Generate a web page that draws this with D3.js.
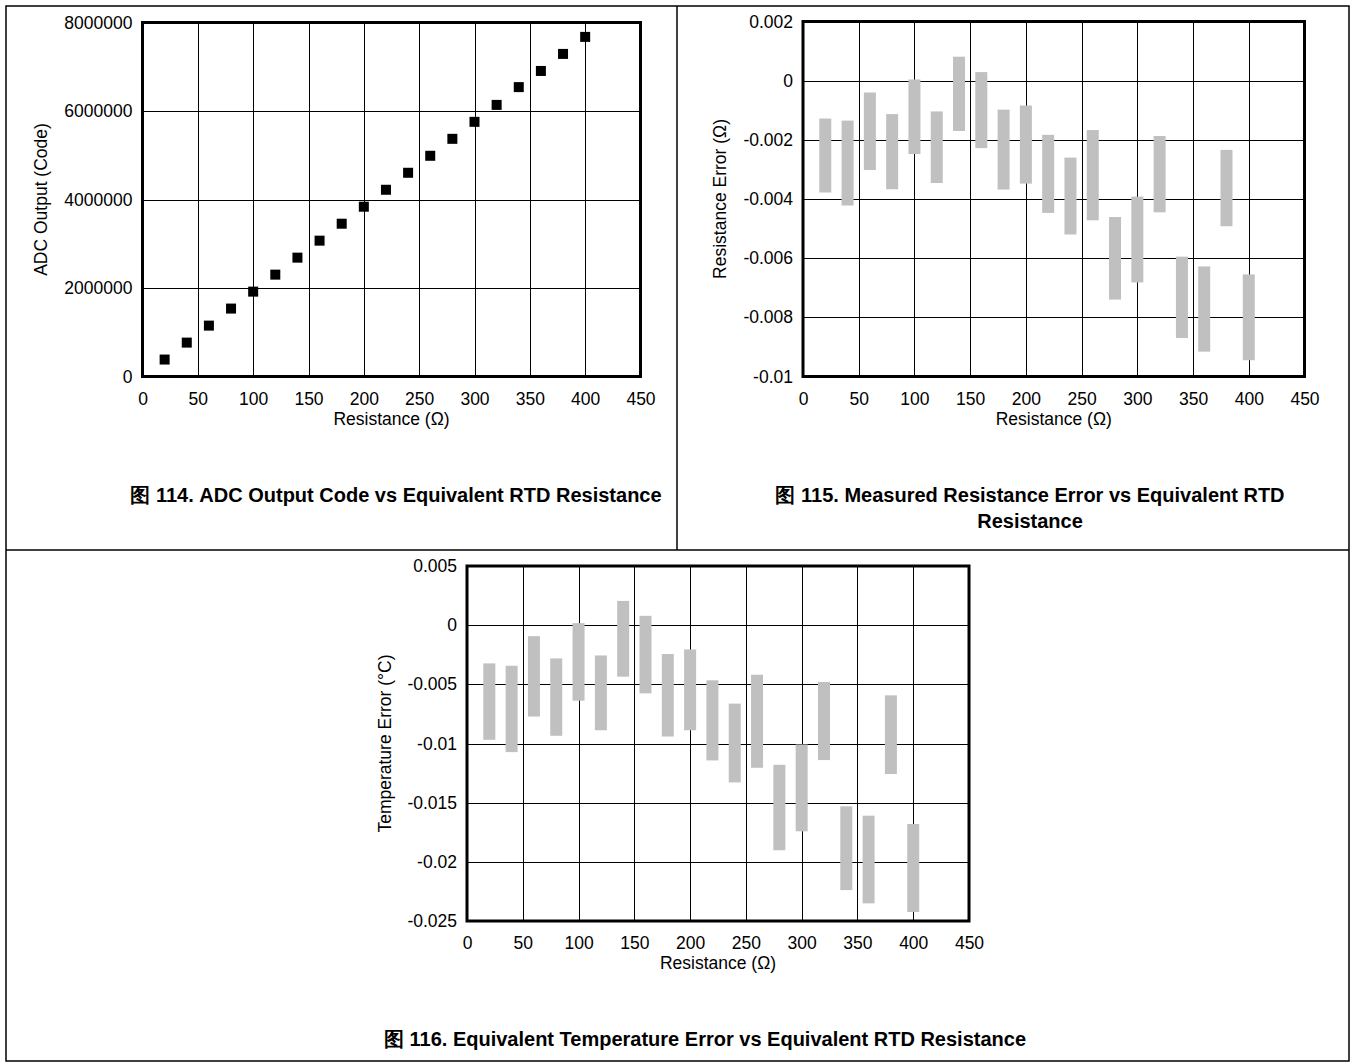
<!DOCTYPE html>
<html>
<head>
<meta charset="utf-8">
<script src="https://cdn.jsdelivr.net/npm/d3@7"></script>
<style>
  body { margin: 0; background: #fff; }
  svg text { font-family: "Liberation Sans", Arial, sans-serif; fill: #000; }
</style>
</head>
<body>
<svg id="page" width="1351" height="1064"></svg>
<script>
// equivalent RTD resistance (ohm), same for all three figures
var resistance = [20, 40, 60, 80, 100, 120, 140, 160, 180, 200, 220, 240, 260, 280, 300, 320, 340, 360, 380, 400];

// fig 114 - ADC output code
var adcCode = [383000, 766000, 1150000, 1535000, 1918000, 2302000, 2686000, 3070000, 3453000, 3837000,
               4220000, 4604000, 4988000, 5371000, 5755000, 6138000, 6540000, 6905000, 7290000, 7675000];

// fig 115 - resistance error range (ohm)
var resErrTop = [-0.00128, -0.00135, -0.0004, -0.00113, 0.00004, -0.00104, 0.00081, 0.00029, -0.00098, -0.00084,
                 -0.00183, -0.0026, -0.00167, -0.00461, -0.00392, -0.00187, -0.00595, -0.00628, -0.00234, -0.00655];
var resErrBottom = [-0.00378, -0.00422, -0.00302, -0.00367, -0.00248, -0.00346, -0.0017, -0.00228, -0.00368, -0.00348,
                    -0.00447, -0.0052, -0.00472, -0.0074, -0.00682, -0.00445, -0.0087, -0.00916, -0.00492, -0.00945];

// fig 116 - temperature error range (degC)
var tempErrTop = [-0.00323, -0.00343, -0.00093, -0.00281, 0.00017, -0.00256, 0.00205, 0.00079, -0.00244, -0.00205,
                  -0.00466, -0.00663, -0.00419, -0.0118, -0.01008, -0.0048, -0.01531, -0.0161, -0.00593, -0.0168];
var tempErrBottom = [-0.00969, -0.01073, -0.00772, -0.00935, -0.00638, -0.00888, -0.00435, -0.00576, -0.00941, -0.00888,
                     -0.01143, -0.01329, -0.01205, -0.01902, -0.01742, -0.0114, -0.02239, -0.02351, -0.01258, -0.02424];

// axis ticks
var xTicks = [0, 50, 100, 150, 200, 250, 300, 350, 400, 450];
var adcTicks = [0, 2000000, 4000000, 6000000, 8000000];
var resErrTicks = [-0.01, -0.008, -0.006, -0.004, -0.002, 0, 0.002];
var tempErrTicks = [-0.025, -0.02, -0.015, -0.01, -0.005, 0, 0.005];

var svg = d3.select("#page");
var FS = 17.5;

// page frame and panel dividers
svg.append("rect")
    .attr("x", 6).attr("y", 6)
    .attr("width", 1343).attr("height", 1055)
    .attr("fill", "none").attr("stroke", "#000").attr("stroke-width", 1.5);
svg.append("line")
    .attr("x1", 677).attr("x2", 677).attr("y1", 6).attr("y2", 550)
    .attr("stroke", "#000").attr("stroke-width", 1.5);
svg.append("line")
    .attr("x1", 6).attr("x2", 1349).attr("y1", 550).attr("y2", 550)
    .attr("stroke", "#000").attr("stroke-width", 1.5);

function fmtNum(v) {
  return String(Math.round(v * 1e6) / 1e6);
}

function drawPanel(opt) {
  var x = d3.scaleLinear().domain([0, 450]).range([opt.left, opt.right]);
  var y = d3.scaleLinear().domain(opt.yDomain).range([opt.bottom, opt.top]);
  var g = svg.append("g");

  // grid
  g.append("g")
      .attr("transform", "translate(0," + opt.bottom + ")")
      .call(d3.axisBottom(x).tickValues(xTicks).tickSize(-(opt.bottom - opt.top)).tickFormat(""))
      .call(function(s) { s.select(".domain").remove(); })
      .selectAll("line").attr("stroke", "#000").attr("stroke-width", 1).attr("shape-rendering", "crispEdges");
  g.append("g")
      .attr("transform", "translate(" + opt.left + ",0)")
      .call(d3.axisLeft(y).tickValues(opt.yTicks).tickSize(-(opt.right - opt.left)).tickFormat(""))
      .call(function(s) { s.select(".domain").remove(); })
      .selectAll("line").attr("stroke", "#000").attr("stroke-width", 1).attr("shape-rendering", "crispEdges");

  // data marks
  opt.draw(g, x, y);

  // tick labels
  var xa = g.append("g")
      .attr("transform", "translate(0," + opt.bottom + ")")
      .call(d3.axisBottom(x).tickValues(xTicks).tickSize(0).tickPadding(28 - 0.71 * FS));
  xa.select(".domain").remove();
  xa.selectAll("text").style("font-size", FS + "px").attr("fill", "#000");

  var ya = g.append("g")
      .attr("transform", "translate(" + opt.left + ",0)")
      .call(d3.axisLeft(y).tickValues(opt.yTicks).tickSize(0).tickPadding(10).tickFormat(fmtNum));
  ya.select(".domain").remove();
  ya.selectAll("text").style("font-size", FS + "px").attr("fill", "#000");

  // plot frame
  g.append("rect")
      .attr("x", opt.left).attr("y", opt.top)
      .attr("width", opt.right - opt.left).attr("height", opt.bottom - opt.top)
      .attr("fill", "none").attr("stroke", "#000").attr("stroke-width", 3);

  // axis titles
  g.append("text")
      .attr("x", (opt.left + opt.right) / 2)
      .attr("y", opt.bottom + 48)
      .attr("text-anchor", "middle")
      .style("font-size", FS + "px")
      .text("Resistance (\u03A9)");
  g.append("text")
      .attr("transform", "translate(" + opt.yTitleX + "," + (opt.top + opt.bottom) / 2 + ")rotate(-90)")
      .attr("dy", "0.35em")
      .attr("text-anchor", "middle")
      .style("font-size", FS + "px")
      .text(opt.yTitle);

  // caption
  var cap = g.append("text")
      .attr("text-anchor", "middle")
      .style("font-size", "20px")
      .style("font-weight", "bold");
  opt.caption.forEach(function(line, i) {
    cap.append("tspan")
        .attr("x", opt.capX)
        .attr("y", opt.capY + i * 26)
        .text(line);
  });
}

drawPanel({
  left: 142.5, right: 640.5, top: 22.5, bottom: 376.5,
  yDomain: [0, 8000000], yTicks: adcTicks,
  yTitle: "ADC Output (Code)", yTitleX: 40.5,
  caption: ["\u56FE 114. ADC Output Code vs Equivalent RTD Resistance"], capX: 396, capY: 502,
  draw: function(g, x, y) {
    g.selectAll(".pt")
        .data(resistance)
      .enter().append("rect")
        .attr("class", "pt")
        .attr("x", function(d) { return x(d) - 5; })
        .attr("y", function(d, i) { return y(adcCode[i]) - 5; })
        .attr("width", 10).attr("height", 10)
        .attr("fill", "#000");
  }
});

function errorBars(top, bottom) {
  return function(g, x, y) {
    g.selectAll(".bar")
        .data(resistance)
      .enter().append("rect")
        .attr("class", "bar")
        .attr("x", function(d) { return x(d) - 6; })
        .attr("y", function(d, i) { return y(top[i]); })
        .attr("width", 12)
        .attr("height", function(d, i) { return y(bottom[i]) - y(top[i]); })
        .attr("fill", "#c0c0c0");
  };
}

drawPanel({
  left: 803, right: 1304.5, top: 21.5, bottom: 376.5,
  yDomain: [-0.01, 0.002], yTicks: resErrTicks,
  yTitle: "Resistance Error (\u03A9)", yTitleX: 720,
  caption: ["\u56FE 115. Measured Resistance Error vs Equivalent RTD", "Resistance"], capX: 1030, capY: 502,
  draw: errorBars(resErrTop, resErrBottom)
});

drawPanel({
  left: 467, right: 969, top: 566, bottom: 921,
  yDomain: [-0.025, 0.005], yTicks: tempErrTicks,
  yTitle: "Temperature Error (\u00B0C)", yTitleX: 384.5,
  caption: ["\u56FE 116. Equivalent Temperature Error vs Equivalent RTD Resistance"], capX: 705, capY: 1046,
  draw: errorBars(tempErrTop, tempErrBottom)
});
</script>
</body>
</html>
